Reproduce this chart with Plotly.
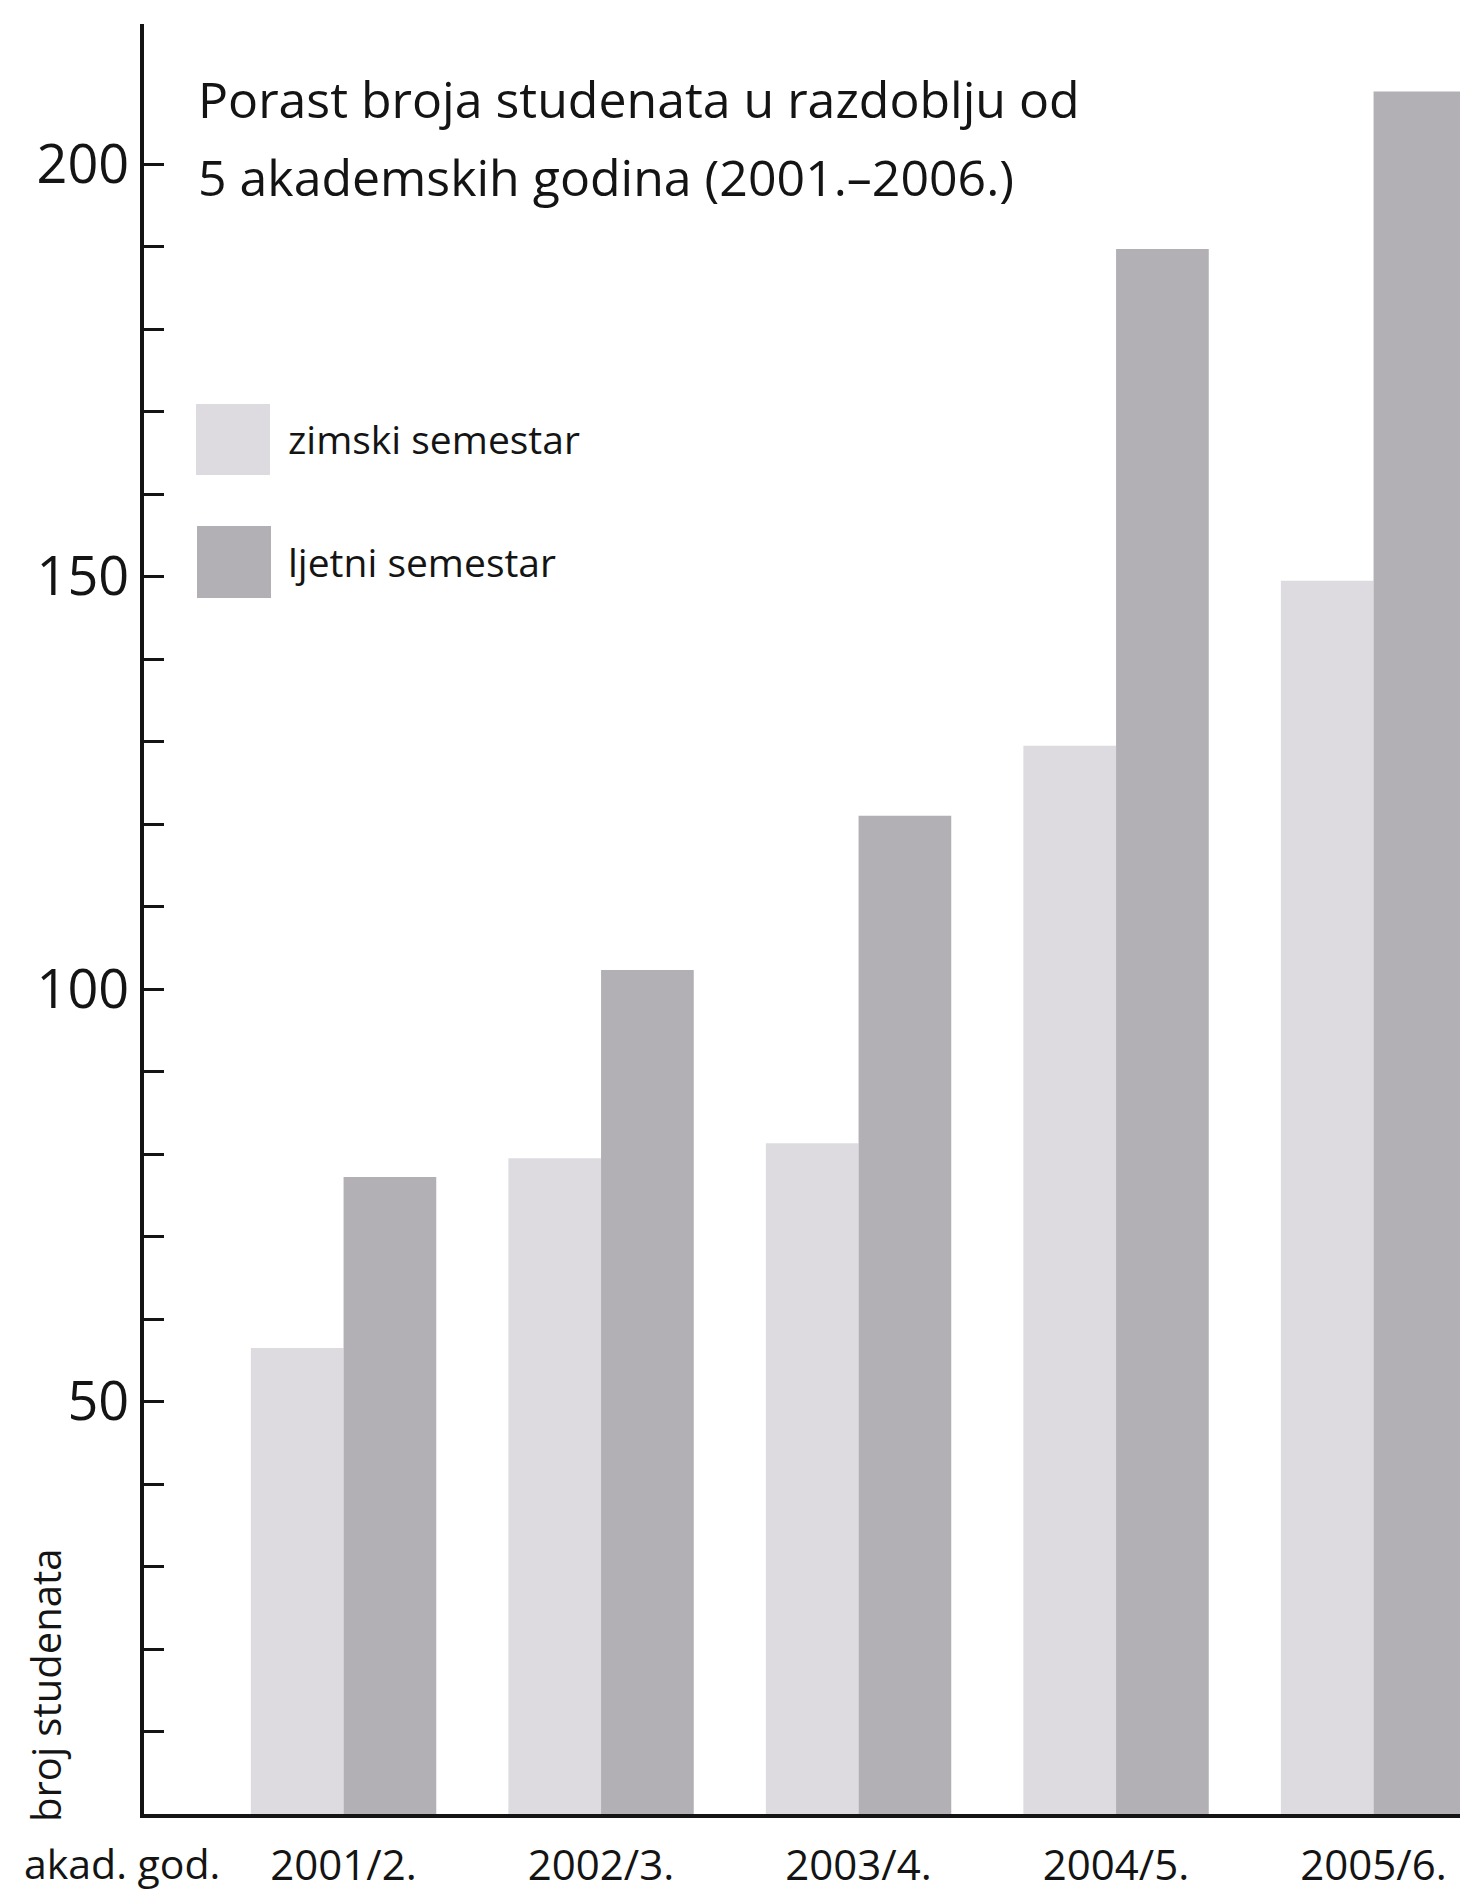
import plotly.graph_objects as go

# ---- data ----
categories = ["2001/2.", "2002/3.", "2003/4.", "2004/5.", "2005/6."]
series_names = ["zimski semestar", "ljetni semestar"]
zimski = [56.5, 79.5, 81.3, 129.5, 149.5]
ljetni = [77.2, 102.3, 121.0, 189.7, 208.8]
y_tick_values = list(range(10, 201, 10))
y_tick_labels = [str(v) if v % 50 == 0 else "" for v in y_tick_values]
title_lines = ["Porast broja studenata u razdoblju od",
               "5 akademskih godina (2001.–2006.)"]
x_axis_label = "akad. god."
y_axis_label = "broj studenata"

# ---- layout constants (pixels); page body has an 8px margin ----
OFF = 8
W, H = 1452, 1884
L, R, T, B = 136, 0, 16, 78
PW, PH = W - L - R, H - T - B
PX_PER_CAT = 257.5
X0 = -0.775
FONT = "Open Sans"
INK = "#141414"
C_ZIM = "#dddbdf"
C_LJE = "#b2b0b5"


def px(x):
    """screen x pixel -> paper coordinate"""
    return (x - OFF - L) / PW


def py(y):
    """screen y pixel -> paper coordinate"""
    return (H - B - (y - OFF)) / PH


fig = go.Figure()
fig.add_trace(go.Bar(x=categories, y=zimski, name=series_names[0],
                     marker=dict(color=C_ZIM, line=dict(width=0))))
fig.add_trace(go.Bar(x=categories, y=ljetni, name=series_names[1],
                     marker=dict(color=C_LJE, line=dict(width=0))))


def note(text, x, y, size, xanchor="left", angle=0, pad=1):
    return dict(text=text, x=px(x), y=py(y), xref="paper", yref="paper",
                xanchor=xanchor, yanchor="middle", showarrow=False,
                textangle=angle, borderpad=pad,
                font=dict(family=FONT, size=size, color=INK))


annotations = [
    note(title_lines[0], 196, 99, 50),
    note(title_lines[1], 196, 177, 50),
    note(series_names[0], 286, 438, 39),
    note(series_names[1], 286, 562, 39),
    note(x_axis_label, 23, 1863, 41, pad=0),
    note(y_axis_label, 45, 1686, 40, xanchor="center", angle=-90),
]

shapes = [
    dict(type="rect", xref="paper", yref="paper", x0=px(196), x1=px(270),
         y0=py(475), y1=py(404), fillcolor=C_ZIM, line=dict(width=0)),
    dict(type="rect", xref="paper", yref="paper", x0=px(197), x1=px(271),
         y0=py(598), y1=py(526), fillcolor=C_LJE, line=dict(width=0)),
]

fig.update_layout(
    width=W, height=H,
    margin=dict(l=L, r=R, t=T, b=B, pad=0),
    paper_bgcolor="white", plot_bgcolor="white",
    barmode="group", bargap=0.28, bargroupgap=0,
    showlegend=False,
    font=dict(family=FONT, color=INK),
    annotations=annotations,
    shapes=shapes,
)
fig.update_xaxes(
    range=[X0, X0 + PW / PX_PER_CAT], showgrid=False, zeroline=False,
    showline=True, linewidth=4, linecolor=INK,
    ticks="", tickfont=dict(family=FONT, size=42, color=INK),
    ticklabelstandoff=12,
)
fig.update_yaxes(
    range=[0, PH / 8.25], showgrid=False, zeroline=False,
    showline=True, linewidth=4, linecolor=INK,
    ticks="inside", ticklen=20, tickwidth=3, tickcolor=INK,
    tickmode="array", tickvals=y_tick_values, ticktext=y_tick_labels,
    tickfont=dict(family=FONT, size=54, color=INK),
    ticklabelstandoff=0,
)

fig.write_html("out.html")
